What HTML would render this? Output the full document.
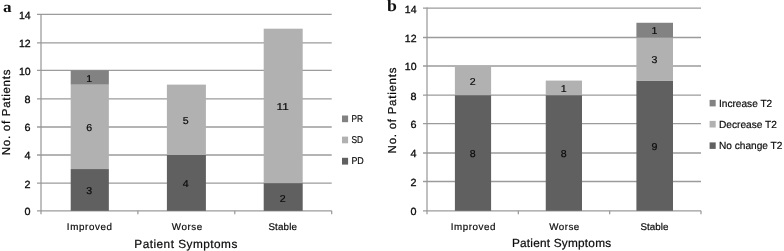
<!DOCTYPE html>
<html><head><meta charset="utf-8"><title>Figure</title>
<style>
html,body{margin:0;padding:0;background:#fff;}
body{width:784px;height:251px;overflow:hidden;font-family:"Liberation Sans",sans-serif;}
svg{display:block;filter:blur(0.35px);}
svg text{text-rendering:geometricPrecision;font-family:"Liberation Sans",sans-serif;stroke:#0a0a0a;stroke-width:0.3px;}
svg text.d{stroke-width:0.2px;}
svg text.t{stroke-width:0.22px;}
svg text.c{stroke-width:0.18px;}
</style></head><body>
<svg width="784" height="251" viewBox="0 0 784 251">
<rect x="0" y="0" width="784" height="251" fill="#ffffff"/>
<text x="3.0" y="11.6" style="font-family:'Liberation Serif',serif;font-weight:bold;stroke:none" font-size="15.4" textLength="8.6" lengthAdjust="spacingAndGlyphs" fill="#111">a</text>
<text x="387.0" y="11" style="font-family:'Liberation Serif',serif;font-weight:bold;stroke:none" font-size="16.3" textLength="9.9" lengthAdjust="spacingAndGlyphs" fill="#111">b</text>
<line x1="37" y1="210.85" x2="331.7" y2="210.85" stroke="#9b9b9b" stroke-width="1.3"/>
<text x="30.6" y="215" text-anchor="end" font-size="10.4" textLength="6.0" lengthAdjust="spacingAndGlyphs" fill="#0a0a0a">0</text>
<line x1="37" y1="183.10" x2="331.7" y2="183.10" stroke="#9b9b9b" stroke-width="1.3"/>
<text x="30.6" y="188" text-anchor="end" font-size="10.4" textLength="6.0" lengthAdjust="spacingAndGlyphs" fill="#0a0a0a">2</text>
<line x1="37" y1="155.00" x2="331.7" y2="155.00" stroke="#9b9b9b" stroke-width="1.3"/>
<text x="30.6" y="159" text-anchor="end" font-size="10.4" textLength="6.0" lengthAdjust="spacingAndGlyphs" fill="#0a0a0a">4</text>
<line x1="37" y1="127.00" x2="331.7" y2="127.00" stroke="#9b9b9b" stroke-width="1.3"/>
<text x="30.6" y="131" text-anchor="end" font-size="10.4" textLength="6.0" lengthAdjust="spacingAndGlyphs" fill="#0a0a0a">6</text>
<line x1="37" y1="98.95" x2="331.7" y2="98.95" stroke="#9b9b9b" stroke-width="1.3"/>
<text x="30.6" y="103" text-anchor="end" font-size="10.4" textLength="6.0" lengthAdjust="spacingAndGlyphs" fill="#0a0a0a">8</text>
<line x1="37" y1="70.30" x2="331.7" y2="70.30" stroke="#9b9b9b" stroke-width="1.3"/>
<text x="30.6" y="75" text-anchor="end" font-size="10.4" textLength="11.7" lengthAdjust="spacingAndGlyphs" fill="#0a0a0a">10</text>
<line x1="37" y1="42.95" x2="331.7" y2="42.95" stroke="#9b9b9b" stroke-width="1.3"/>
<text x="30.6" y="47" text-anchor="end" font-size="10.4" textLength="11.7" lengthAdjust="spacingAndGlyphs" fill="#0a0a0a">12</text>
<line x1="37" y1="14.45" x2="331.7" y2="14.45" stroke="#9b9b9b" stroke-width="1.3"/>
<text x="30.6" y="19" text-anchor="end" font-size="10.4" textLength="11.7" lengthAdjust="spacingAndGlyphs" fill="#0a0a0a">14</text>
<rect x="70.70" y="169.05" width="38.15" height="41.80" fill="#606060"/>
<text x="89.18" y="194" text-anchor="middle" class="d" font-size="10" textLength="5.9" lengthAdjust="spacingAndGlyphs" fill="#0a0a0a">3</text>
<rect x="70.70" y="84.62" width="38.15" height="84.43" fill="#b1b1b1"/>
<text x="89.18" y="131" text-anchor="middle" class="d" font-size="10" textLength="5.9" lengthAdjust="spacingAndGlyphs" fill="#0a0a0a">6</text>
<rect x="70.70" y="70.30" width="38.15" height="14.33" fill="#828282"/>
<text x="89.18" y="82" text-anchor="middle" class="d" font-size="10" textLength="5.9" lengthAdjust="spacingAndGlyphs" fill="#0a0a0a">1</text>
<rect x="166.90" y="155.00" width="39.00" height="55.85" fill="#606060"/>
<text x="185.80" y="187" text-anchor="middle" class="d" font-size="10" textLength="5.9" lengthAdjust="spacingAndGlyphs" fill="#0a0a0a">4</text>
<rect x="166.90" y="84.62" width="39.00" height="70.38" fill="#b1b1b1"/>
<text x="185.80" y="124" text-anchor="middle" class="d" font-size="10" textLength="5.9" lengthAdjust="spacingAndGlyphs" fill="#0a0a0a">5</text>
<rect x="263.70" y="183.10" width="39.00" height="27.75" fill="#606060"/>
<text x="282.60" y="202" text-anchor="middle" class="d" font-size="10" textLength="5.9" lengthAdjust="spacingAndGlyphs" fill="#0a0a0a">2</text>
<rect x="263.70" y="28.70" width="39.00" height="154.40" fill="#b1b1b1"/>
<text x="282.60" y="110" text-anchor="middle" class="d" font-size="10" textLength="12.2" lengthAdjust="spacingAndGlyphs" fill="#0a0a0a">11</text>
<line x1="41" y1="13.95" x2="41" y2="214.35" stroke="#969696" stroke-width="1.2"/>
<line x1="137.90" y1="210.85" x2="137.90" y2="214.35" stroke="#969696" stroke-width="1.2"/>
<line x1="234.80" y1="210.85" x2="234.80" y2="214.35" stroke="#969696" stroke-width="1.2"/>
<line x1="331.70" y1="210.85" x2="331.70" y2="214.35" stroke="#969696" stroke-width="1.2"/>
<text class="c" x="66.8" y="230.0" font-size="9.8" textLength="45.2" lengthAdjust="spacing" fill="#0a0a0a">Improved</text>
<text class="c" x="171.8" y="230.0" font-size="9.8" textLength="30.3" lengthAdjust="spacing" fill="#0a0a0a">Worse</text>
<text class="c" x="268.4" y="230.0" font-size="9.8" textLength="28.6" lengthAdjust="spacing" fill="#0a0a0a">Stable</text>
<text x="134.3" y="248" class="t" font-size="11.8" textLength="103" lengthAdjust="spacing" fill="#0a0a0a">Patient Symptoms</text>
<text transform="translate(10.3,155.20) rotate(-90)" class="t" font-size="11.5" textLength="85.6" lengthAdjust="spacing" fill="#0a0a0a">No. of Patients</text>
<rect x="342" y="115.5" width="6.1" height="6.70" fill="#828282"/>
<text class="c" x="351.4" y="122.00" font-size="9.9" textLength="11.6" lengthAdjust="spacingAndGlyphs" fill="#0a0a0a">PR</text>
<rect x="342" y="136.6" width="6.1" height="6.70" fill="#b1b1b1"/>
<text class="c" x="351.4" y="143.00" font-size="9.9" textLength="11.7" lengthAdjust="spacingAndGlyphs" fill="#0a0a0a">SD</text>
<rect x="342" y="157.8" width="6.1" height="6.80" fill="#606060"/>
<text class="c" x="351.4" y="164.00" font-size="9.9" textLength="12.4" lengthAdjust="spacingAndGlyphs" fill="#0a0a0a">PD</text>
<line x1="423" y1="210.80" x2="701" y2="210.80" stroke="#9b9b9b" stroke-width="1.3"/>
<text x="416.5" y="215" text-anchor="end" font-size="10.4" textLength="6.0" lengthAdjust="spacingAndGlyphs" fill="#0a0a0a">0</text>
<line x1="423" y1="181.50" x2="701" y2="181.50" stroke="#9b9b9b" stroke-width="1.3"/>
<text x="416.5" y="186" text-anchor="end" font-size="10.4" textLength="6.0" lengthAdjust="spacingAndGlyphs" fill="#0a0a0a">2</text>
<line x1="423" y1="153.00" x2="701" y2="153.00" stroke="#9b9b9b" stroke-width="1.3"/>
<text x="416.5" y="157" text-anchor="end" font-size="10.4" textLength="6.0" lengthAdjust="spacingAndGlyphs" fill="#0a0a0a">4</text>
<line x1="423" y1="123.70" x2="701" y2="123.70" stroke="#9b9b9b" stroke-width="1.3"/>
<text x="416.5" y="128" text-anchor="end" font-size="10.4" textLength="6.0" lengthAdjust="spacingAndGlyphs" fill="#0a0a0a">6</text>
<line x1="423" y1="95.15" x2="701" y2="95.15" stroke="#9b9b9b" stroke-width="1.3"/>
<text x="416.5" y="100" text-anchor="end" font-size="10.4" textLength="6.0" lengthAdjust="spacingAndGlyphs" fill="#0a0a0a">8</text>
<line x1="423" y1="66.00" x2="701" y2="66.00" stroke="#9b9b9b" stroke-width="1.3"/>
<text x="416.5" y="70" text-anchor="end" font-size="10.4" textLength="11.7" lengthAdjust="spacingAndGlyphs" fill="#0a0a0a">10</text>
<line x1="423" y1="37.50" x2="701" y2="37.50" stroke="#9b9b9b" stroke-width="1.3"/>
<text x="416.5" y="42" text-anchor="end" font-size="10.4" textLength="11.7" lengthAdjust="spacingAndGlyphs" fill="#0a0a0a">12</text>
<line x1="423" y1="8.05" x2="701" y2="8.05" stroke="#9b9b9b" stroke-width="1.3"/>
<text x="416.5" y="13" text-anchor="end" font-size="10.4" textLength="11.7" lengthAdjust="spacingAndGlyphs" fill="#0a0a0a">14</text>
<rect x="454.90" y="95.15" width="36.20" height="115.65" fill="#606060"/>
<text x="472.80" y="157" text-anchor="middle" class="d" font-size="10" textLength="5.9" lengthAdjust="spacingAndGlyphs" fill="#0a0a0a">8</text>
<rect x="454.90" y="66.00" width="36.20" height="29.15" fill="#b1b1b1"/>
<text x="472.80" y="85" text-anchor="middle" class="d" font-size="10" textLength="5.9" lengthAdjust="spacingAndGlyphs" fill="#0a0a0a">2</text>
<rect x="545.75" y="95.15" width="36.25" height="115.65" fill="#606060"/>
<text x="563.67" y="157" text-anchor="middle" class="d" font-size="10" textLength="5.9" lengthAdjust="spacingAndGlyphs" fill="#0a0a0a">8</text>
<rect x="545.75" y="80.58" width="36.25" height="14.58" fill="#b1b1b1"/>
<text x="563.67" y="92" text-anchor="middle" class="d" font-size="10" textLength="5.9" lengthAdjust="spacingAndGlyphs" fill="#0a0a0a">1</text>
<rect x="636.40" y="80.58" width="36.60" height="130.23" fill="#606060"/>
<text x="654.50" y="150" text-anchor="middle" class="d" font-size="10" textLength="5.9" lengthAdjust="spacingAndGlyphs" fill="#0a0a0a">9</text>
<rect x="636.40" y="37.50" width="36.60" height="43.08" fill="#b1b1b1"/>
<text x="654.50" y="63" text-anchor="middle" class="d" font-size="10" textLength="5.9" lengthAdjust="spacingAndGlyphs" fill="#0a0a0a">3</text>
<rect x="636.40" y="22.77" width="36.60" height="14.73" fill="#828282"/>
<text x="654.50" y="34" text-anchor="middle" class="d" font-size="10" textLength="5.9" lengthAdjust="spacingAndGlyphs" fill="#0a0a0a">1</text>
<line x1="427" y1="7.55" x2="427" y2="214.30" stroke="#969696" stroke-width="1.2"/>
<line x1="518.33" y1="210.80" x2="518.33" y2="214.30" stroke="#969696" stroke-width="1.2"/>
<line x1="609.67" y1="210.80" x2="609.67" y2="214.30" stroke="#969696" stroke-width="1.2"/>
<line x1="701.00" y1="210.80" x2="701.00" y2="214.30" stroke="#969696" stroke-width="1.2"/>
<text class="c" x="450.7" y="230.0" font-size="9.8" textLength="44.7" lengthAdjust="spacing" fill="#0a0a0a">Improved</text>
<text class="c" x="549.3" y="230.0" font-size="9.8" textLength="29.9" lengthAdjust="spacing" fill="#0a0a0a">Worse</text>
<text class="c" x="640.4" y="230.0" font-size="9.8" textLength="28.1" lengthAdjust="spacing" fill="#0a0a0a">Stable</text>
<text x="511.9" y="247" class="t" font-size="11.8" textLength="99.2" lengthAdjust="spacing" fill="#0a0a0a">Patient Symptoms</text>
<text transform="translate(396.1,153.40) rotate(-90)" class="t" font-size="11.5" textLength="85.8" lengthAdjust="spacing" fill="#0a0a0a">No. of Patients</text>
<rect x="709.6" y="99.9" width="6.1" height="6.50" fill="#828282"/>
<text class="c" x="719" y="106.70" font-size="10.3" textLength="53.2" lengthAdjust="spacingAndGlyphs" fill="#0a0a0a">Increase T2</text>
<rect x="709.6" y="120.9" width="6.1" height="6.60" fill="#b1b1b1"/>
<text class="c" x="719" y="127.80" font-size="10.3" textLength="57.9" lengthAdjust="spacingAndGlyphs" fill="#0a0a0a">Decrease T2</text>
<rect x="709.6" y="142.4" width="6.1" height="6.50" fill="#606060"/>
<text class="c" x="719" y="149.00" font-size="10.3" textLength="63.4" lengthAdjust="spacingAndGlyphs" fill="#0a0a0a">No change T2</text>
</svg>
</body></html>
